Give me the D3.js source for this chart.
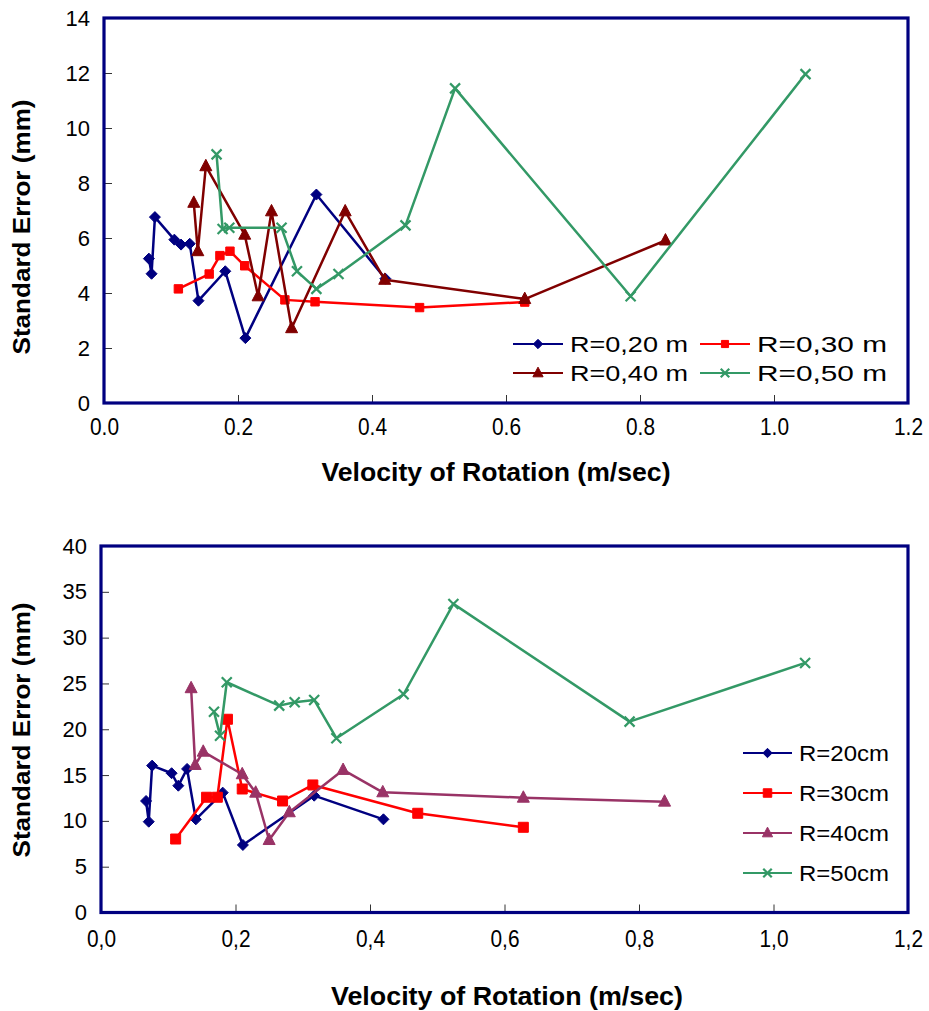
<!DOCTYPE html>
<html>
<head>
<meta charset="utf-8">
<script src="https://cdn.jsdelivr.net/npm/d3@7"></script>
<style>
  body { margin: 0; background: #fff; }
  svg { display: block; font-family: "Liberation Sans", Arial, sans-serif; }
</style>
</head>
<body>
<svg id="chart" width="929" height="1011"></svg>
<script>
// velocity of rotation (m/sec) for each radius, same runs in both panels
const velR20 = [0.067, 0.071, 0.076, 0.105, 0.115, 0.128, 0.141, 0.181, 0.211, 0.317, 0.420];
const velR30 = [0.111, 0.157, 0.173, 0.188, 0.210, 0.270, 0.315, 0.471, 0.628];
const velR40 = [0.134, 0.140, 0.152, 0.210, 0.230, 0.250, 0.280, 0.360, 0.419, 0.628, 0.838];
const velR50 = [0.168, 0.177, 0.187, 0.265, 0.288, 0.317, 0.350, 0.450, 0.524, 0.786, 1.047];

// upper panel, standard error (mm)
const topErr20 = [5.25, 4.70, 6.76, 5.94, 5.76, 5.79, 3.72, 4.79, 2.36, 7.58, 4.52];
const topErr30 = [4.15, 4.69, 5.36, 5.52, 4.99, 3.75, 3.68, 3.47, 3.67];
const topErr40 = [7.28, 5.52, 8.61, 6.12, 3.88, 6.97, 2.72, 6.97, 4.48, 3.78, 5.91];
const topErr50 = [9.04, 6.33, 6.37, 6.37, 4.79, 4.15, 4.69, 6.46, 11.44, 3.88, 11.96];

// lower panel, standard error (mm)
const botErr20 = [12.17, 9.91, 16.03, 15.2, 13.84, 15.67, 10.17, 13.08, 7.37, 12.75, 10.17];
const botErr30 = [8.02, 12.58, 12.58, 21.09, 13.48, 12.17, 13.92, 10.83, 9.30];
const botErr40 = [24.48, 16.10, 17.55, 15.09, 13.08, 7.91, 10.94, 15.56, 13.12, 12.53, 12.10];
const botErr50 = [21.92, 19.30, 25.13, 22.58, 22.95, 23.2, 19.02, 23.82, 33.68, 20.83, 27.24];

const topLabels = ["R=0,20 m", "R=0,30 m", "R=0,40 m", "R=0,50 m"];
const botLabels = ["R=20cm", "R=30cm", "R=40cm", "R=50cm"];

const xTicks = [0, 0.2, 0.4, 0.6, 0.8, 1.0, 1.2];
const topYTicks = [0, 2, 4, 6, 8, 10, 12, 14];
const botYTicks = [0, 5, 10, 15, 20, 25, 30, 35, 40];

const xTitle = "Velocity of Rotation (m/sec)";
const yTitle = "Standard Error (mm)";

const NAVY = "#000080";

const markerPaths = {
  diamond: r => `M0,${-r}L${r},0L0,${r}L${-r},0Z`,
  square: r => `M${-r},${-r}H${r}V${r}H${-r}Z`,
  triangle: r => `M0,${-r * 1.15}L${r},${r * 0.75}L${-r},${r * 0.75}Z`,
  cross: r => `M${-r},${-r}L${r},${r}M${-r},${r}L${r},${-r}`,
};

function addMarker(sel, kind, color, r) {
  sel.append('path')
    .attr('d', markerPaths[kind](r))
    .attr('fill', kind === 'cross' ? 'none' : color)
    .attr('stroke', color)
    .attr('stroke-width', kind === 'cross' ? 2.2 : 1);
}

function drawPanel(svg, opts) {
  const g = svg.append('g').attr('class', 'panel');

  const x = d3.scaleLinear().domain([0, 1.2]).range([opts.left, opts.right]);
  const y = d3.scaleLinear().domain([0, opts.yMax]).range([opts.bottom, opts.top]);

  // tick marks sit inside the frame
  const yAxis = g.append('g')
    .attr('transform', `translate(${opts.left},0)`)
    .call(d3.axisLeft(y).tickValues(opts.yTicks).tickSizeInner(-8).tickSizeOuter(0).tickPadding(14));
  yAxis.select('.domain').remove();
  yAxis.selectAll('line').attr('stroke', '#333');
  yAxis.selectAll('text').attr('font-size', 22).attr('fill', '#000');

  // the x labels are set in a narrow face in the original
  const xAxis = g.append('g')
    .attr('transform', `translate(0,${opts.bottom})`)
    .call(d3.axisBottom(x).tickValues(xTicks).tickFormat(opts.xFormat)
      .tickSizeInner(-8).tickSizeOuter(0).tickPadding(opts.xPad));
  xAxis.select('.domain').remove();
  xAxis.selectAll('line').attr('stroke', '#333');
  xAxis.selectAll('text').attr('font-size', 24).attr('fill', '#000')
    .attr('textLength', 29).attr('lengthAdjust', 'spacingAndGlyphs');

  // series
  const line = d3.line().x(d => x(d[0])).y(d => y(d[1]));
  opts.series.forEach(s => {
    const pts = s.vel.map((v, i) => [v, s.err[i]]);
    g.append('path')
      .datum(pts)
      .attr('fill', 'none')
      .attr('stroke', s.color)
      .attr('stroke-width', 2.5)
      .attr('stroke-linejoin', 'round')
      .attr('d', line);
    g.selectAll(null).data(pts).enter()
      .append('g')
      .attr('transform', d => `translate(${x(d[0])},${y(d[1])})`)
      .each(function() { addMarker(d3.select(this), s.marker, s.color, s.size); });
  });

  // frame
  g.append('rect')
    .attr('x', opts.left).attr('y', opts.top)
    .attr('width', opts.right - opts.left).attr('height', opts.bottom - opts.top)
    .attr('fill', 'none').attr('stroke', NAVY).attr('stroke-width', 3.2);

  // legend
  opts.series.forEach((s, i) => {
    const p = opts.legendPos[i];
    const lg = g.append('g').attr('transform', `translate(${p[0]},${p[1]})`);
    lg.append('line').attr('x1', 0).attr('x2', opts.legendLine)
      .attr('stroke', s.color).attr('stroke-width', 2.2);
    const m = lg.append('g').attr('transform', `translate(${opts.legendLine / 2},0)`);
    addMarker(m, s.marker, s.color, s.size * 0.85);
    lg.append('text')
      .attr('x', opts.legendLine + 7).attr('dy', '0.36em')
      .attr('font-size', 22)
      .attr('textLength', opts.legendTextLen[i]).attr('lengthAdjust', 'spacingAndGlyphs')
      .text(s.label);
  });

  // axis titles
  g.append('text')
    .attr('x', opts.xTitlePos[0]).attr('y', opts.xTitlePos[1])
    .attr('text-anchor', 'middle').attr('font-size', 26).attr('font-weight', 'bold')
    .attr('textLength', opts.xTitleLen).attr('lengthAdjust', 'spacingAndGlyphs')
    .text(xTitle);
  g.append('text')
    .attr('transform', `translate(${opts.yTitlePos[0]},${opts.yTitlePos[1]}) rotate(-90)`)
    .attr('text-anchor', 'middle').attr('font-size', 24).attr('font-weight', 'bold')
    .attr('textLength', opts.yTitleLen).attr('lengthAdjust', 'spacingAndGlyphs')
    .text(yTitle);
}

const svg = d3.select('#chart');
svg.append('rect').attr('width', 929).attr('height', 1011).attr('fill', '#fff');

drawPanel(svg, {
  left: 104, right: 908, top: 18, bottom: 403, yMax: 14,
  yTicks: topYTicks, xFormat: d3.format('.1f'), xPad: 15,
  series: [
    {vel: velR20, err: topErr20, label: topLabels[0], color: NAVY, marker: 'diamond', size: 5.5},
    {vel: velR30, err: topErr30, label: topLabels[1], color: '#FF0000', marker: 'square', size: 4.2},
    {vel: velR40, err: topErr40, label: topLabels[2], color: '#800000', marker: 'triangle', size: 6},
    {vel: velR50, err: topErr50, label: topLabels[3], color: '#339966', marker: 'cross', size: 5},
  ],
  legendPos: [[513, 344], [700, 344], [513, 373], [700, 373]],
  legendLine: 50,
  legendTextLen: [118, 130, 118, 130],
  xTitlePos: [496, 481], xTitleLen: 349,
  yTitlePos: [30, 227], yTitleLen: 255,
});

drawPanel(svg, {
  left: 101, right: 908, top: 546, bottom: 912.5, yMax: 40,
  yTicks: botYTicks, xFormat: d => d3.format('.1f')(d).replace('.', ','), xPad: 17,
  series: [
    {vel: velR20, err: botErr20, label: botLabels[0], color: NAVY, marker: 'diamond', size: 5.5},
    {vel: velR30, err: botErr30, label: botLabels[1], color: '#FF0000', marker: 'square', size: 5},
    {vel: velR40, err: botErr40, label: botLabels[2], color: '#993366', marker: 'triangle', size: 6},
    {vel: velR50, err: botErr50, label: botLabels[3], color: '#339966', marker: 'cross', size: 5},
  ],
  legendPos: [[743, 753], [743, 793], [743, 833], [743, 873]],
  legendLine: 49,
  legendTextLen: [90, 90, 90, 90],
  xTitlePos: [507, 1005], xTitleLen: 352,
  yTitlePos: [30, 730], yTitleLen: 255,
});
</script>
</body>
</html>
